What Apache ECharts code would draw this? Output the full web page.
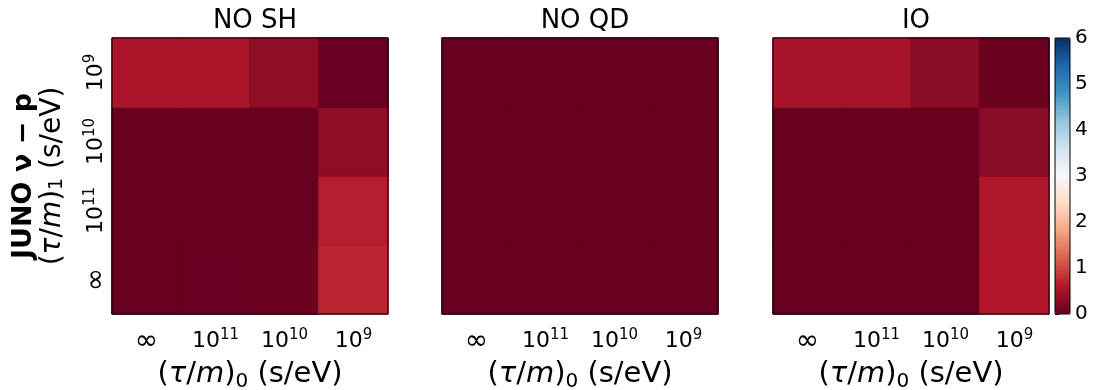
<!DOCTYPE html>
<html>
<head>
<meta charset="utf-8">
<script src="https://cdn.jsdelivr.net/npm/echarts@6/dist/echarts.min.js"></script>
<style>html,body{margin:0;padding:0;background:#fff;}#c{width:1099px;height:390px;}</style>
</head>
<body>
<div id="c"></div>
<script>
// ---- data ----
const xCategories = ['{inf|∞}', '10{s|11}', '10{s|10}', '10{s|9}'];    // (τ/m)_0, left → right
const yCategories = ['{inf|∞}', '10{s|11}', '10{s|10}', '10{s|9}'];    // (τ/m)_1, bottom → top
const panelTitles = ['NO SH', 'NO QD', 'IO'];
// rows listed bottom (∞) → top (10^9); columns ∞, 10^11, 10^10, 10^9
const valuesNOSH = [
  [0.00, 0.01, 0.02, 0.72],
  [0.00, 0.00, 0.00, 0.65],
  [0.00, 0.00, 0.00, 0.33],
  [0.55, 0.55, 0.33, 0.03]
];
const valuesNOQD = [
  [0.00, 0.00, 0.00, 0.00],
  [0.00, 0.00, 0.00, 0.00],
  [0.00, 0.00, 0.00, 0.00],
  [0.00, 0.00, 0.00, 0.00]
];
const valuesIO = [
  [0.00, 0.00, 0.00, 0.58],
  [0.00, 0.00, 0.00, 0.57],
  [0.00, 0.00, 0.00, 0.28],
  [0.50, 0.50, 0.28, 0.02]
];
const colorbarTicks = [0, 1, 2, 3, 4, 5, 6];
const RdBu = ['#67001f','#b2182b','#d6604d','#f4a582','#fddbc7','#f7f7f7','#d1e5f0','#92c5de','#4393c3','#2166ac','#053061'];
const vMin = 0, vMax = 6;

function toCells(m) {
  const out = [];
  m.forEach((row, yi) => row.forEach((v, xi) => {
    // border in the cell's own colour hides anti-aliasing seams between cells
    const c = echarts.color.lerp((v - vMin) / (vMax - vMin), RdBu);
    out.push({ value: [xi, yi, v], itemStyle: { borderColor: c, borderWidth: 1 } });
  }));
  return out;
}

const FONT = 'DejaVu Sans';
const tickRich = {
  s: { fontSize: 15, fontFamily: FONT, color: '#000', verticalAlign: 'top', lineHeight: 27 },
  inf: { fontSize: 28, fontFamily: FONT, color: '#000', lineHeight: 27 }
};
const nameRich = {
  i: { fontStyle: 'italic', fontSize: 29, fontFamily: FONT, color: '#000', lineHeight: 34 },
  n: { fontSize: 29, fontFamily: FONT, color: '#000', lineHeight: 34 },
  sub: { fontSize: 20, fontFamily: FONT, color: '#000', verticalAlign: 'bottom', lineHeight: 34 },
  b: { fontSize: 27, fontWeight: 'bold', fontFamily: FONT, color: '#000', lineHeight: 28 },
  n2: { fontSize: 28, fontFamily: FONT, color: '#000', lineHeight: 29 },
  i2: { fontStyle: 'italic', fontSize: 28, fontFamily: FONT, color: '#000', lineHeight: 29 },
  sub2: { fontSize: 19, fontFamily: FONT, color: '#000', verticalAlign: 'bottom', lineHeight: 29 }
};
const xName = '{n|(}{i|τ}{n|/}{i|m}{n|)}{sub|0}{n| (s/eV)}';
const yName = '{b|JUNO ν − p}\n{n2|(}{i2|τ}{n2|/}{i2|m}{n2|)}{sub2|1}{n2| (s/eV)}';

const lefts = [112, 442, 773];
const gridBase = { top: 38, width: 276, height: 276, show: true, borderColor: '#000', borderWidth: 1, backgroundColor: 'transparent', z: 10, containLabel: false, outerBoundsMode: 'none' };
const grids = lefts.map(l => Object.assign({ left: l }, gridBase));
grids.push(Object.assign({}, gridBase, { left: 1055, width: 15 }));

const xAxes = [0, 1, 2].map(i => ({
  type: 'category', gridIndex: i, data: xCategories,
  axisLine: { show: false }, axisTick: { show: false }, splitLine: { show: false },
  axisLabel: { interval: 0, fontSize: 22, fontFamily: FONT, color: '#000', margin: 14, rich: tickRich, lineHeight: 27 },
  name: xName, nameLocation: 'middle', nameGap: 43,
  nameTextStyle: { fontSize: 29, fontFamily: FONT, color: '#000', rich: nameRich }
}));
xAxes.push({ type: 'value', gridIndex: 3, show: false, min: 0, max: 1 });

const yAxes = [0, 1, 2].map(i => ({
  type: 'category', gridIndex: i, data: yCategories,
  axisLine: { show: false }, axisTick: { show: false }, splitLine: { show: false },
  axisLabel: { show: i === 0, interval: 0, rotate: 90, fontSize: 22, fontFamily: FONT, color: '#000', margin: 2, rich: tickRich, lineHeight: 27 },
  name: i === 0 ? yName : '', nameLocation: 'middle', nameGap: 45, nameRotate: 90,
  nameTextStyle: { fontSize: 28, fontFamily: FONT, color: '#000', rich: nameRich }
}));
yAxes.push({
  type: 'value', gridIndex: 3, position: 'right', min: 0, max: 6, interval: 1,
  axisLine: { show: false },
  axisTick: { show: true, length: 4, lineStyle: { color: '#000' } },
  splitLine: { show: false },
  axisLabel: { fontSize: 20, fontFamily: FONT, color: '#000', margin: 5,
    formatter: v => colorbarTicks.includes(v) ? String(v) : '' }
});

const datasets = [valuesNOSH, valuesNOQD, valuesIO];
const series = datasets.map((m, i) => ({
  type: 'heatmap', xAxisIndex: i, yAxisIndex: i, data: toCells(m),
  emphasis: { disabled: true }, progressive: 0
}));

const option = {
  animation: false,
  backgroundColor: '#fff',
  title: panelTitles.map((t, i) => ({
    text: t, left: lefts[i] + 138, top: 3, textAlign: 'center',
    textStyle: { fontSize: 26, fontWeight: 'normal', fontFamily: FONT, color: '#000' }
  })),
  grid: grids,
  xAxis: xAxes,
  yAxis: yAxes,
  visualMap: {
    type: 'continuous', min: vMin, max: vMax, seriesIndex: [0, 1, 2],
    orient: 'vertical', left: 1055, top: 38, itemWidth: 15, itemHeight: 276,
    padding: 0, calculable: false, hoverLink: false, realtime: false,
    text: null, showLabel: false,
    inRange: { color: RdBu }
  },
  series: series
};

const chart = echarts.init(document.getElementById('c'), null, { renderer: 'canvas' });
chart.setOption(option);
</script>
</body>
</html>
